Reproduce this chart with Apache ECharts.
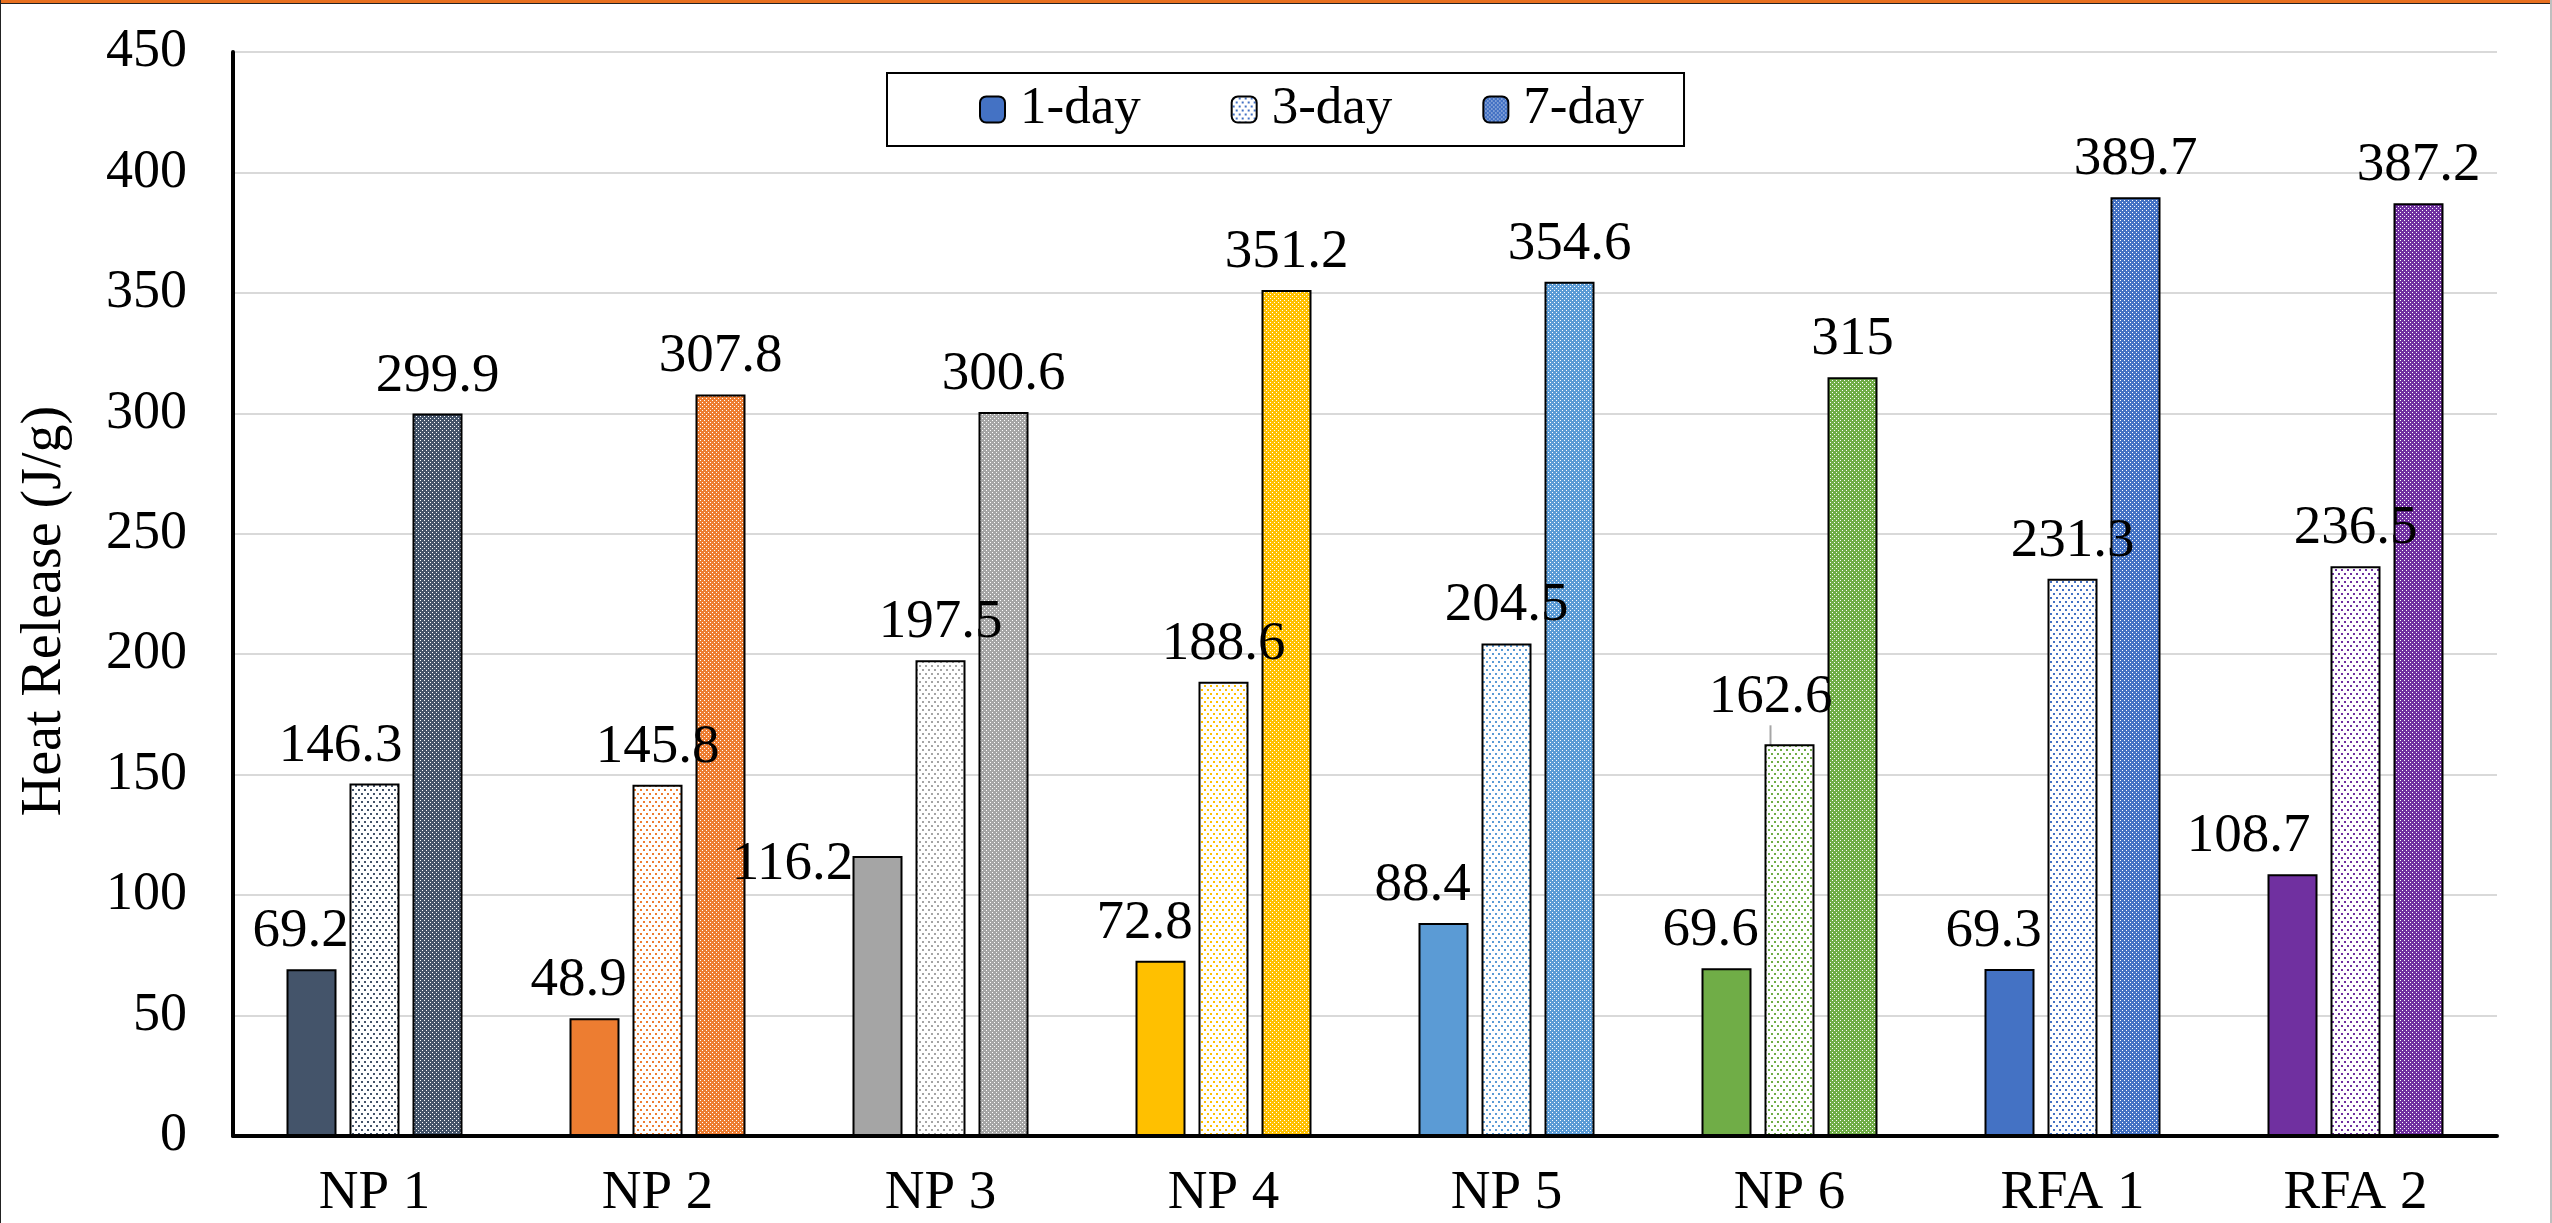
<!DOCTYPE html>
<html>
<head>
<meta charset="utf-8">
<script src="https://cdn.jsdelivr.net/npm/echarts@6/dist/echarts.min.js"></script>
<style>
  html, body { margin: 0; padding: 0; background: #fff; }
  #chart { position: absolute; left: 0; top: 0; width: 2552px; height: 1223px; }
  .edge { position: absolute; pointer-events: none; }
</style>
</head>
<body>
<div id="chart"></div>
<div class="edge" style="left:0;top:0;width:2552px;height:3px;background:#E8701F"></div>
<div class="edge" style="left:0;top:3px;width:2552px;height:1px;background:#222"></div>
<div class="edge" style="left:0;top:0;width:1px;height:1223px;background:#222"></div>
<div class="edge" style="left:2550px;top:0;width:2px;height:1223px;background:#BFBFBF"></div>
<script>
const categories = ['NP 1', 'NP 2', 'NP 3', 'NP 4', 'NP 5', 'NP 6', 'RFA 1', 'RFA 2']
const seriesNames = ['1-day', '3-day', '7-day']
const day1 = [69.2, 48.9, 116.2, 72.8, 88.4, 69.6, 69.3, 108.7]
const day3 = [146.3, 145.8, 197.5, 188.6, 204.5, 162.6, 231.3, 236.5]
const day7 = [299.9, 307.8, 300.6, 351.2, 354.6, 315, 389.7, 387.2]
const yMin = 0
const yMax = 450
const yStep = 50

// one colour per mix, Excel office palette
const mixColors = ['#44546A', '#ED7D31', '#A5A5A5', '#FFC000', '#5B9BD5', '#70AD47', '#4472C4', '#7030A0']

// data labels that were dragged by hand in the original (series:index -> [dx, dy])
const labelNudge = {
  '0:0': [-11, 0],
  '0:1': [-16, 0],
  '0:2': [-85, 46],
  '0:3': [-16, 0],
  '0:4': [-21, 0],
  '0:5': [-16, 0],
  '0:6': [-16, 0],
  '0:7': [-44, 0],
  '1:0': [-34, 0],
  '1:5': [-19, -9],
}

const font = 'Liberation Serif, Times New Roman, serif'

function dotTile(color) {
  const c = document.createElement('canvas')
  c.width = 6; c.height = 8
  const ctx = c.getContext('2d')
  ctx.fillStyle = '#fff'
  ctx.fillRect(0, 0, 6, 8)
  ctx.fillStyle = color
  ctx.fillRect(1, 1, 2, 2)
  ctx.fillRect(4, 5, 2, 2)
  return c
}

function checkTile(color) {
  const c = document.createElement('canvas')
  c.width = 4; c.height = 4
  const ctx = c.getContext('2d')
  ctx.fillStyle = color
  ctx.fillRect(0, 0, 4, 4)
  ctx.fillStyle = '#fff'
  ctx.fillRect(0, 0, 1, 1)
  ctx.fillRect(2, 2, 1, 1)
  return c
}

function fillFor(kind, color) {
  if (kind === 0) return color
  const tile = kind === 1 ? dotTile(color) : checkTile(color)
  return { image: tile, repeat: 'repeat' }
}

const chart = echarts.init(document.getElementById('chart'), null, { renderer: 'canvas' })

const series = [day1, day3, day7].map((values, s) => ({
  name: seriesNames[s],
  type: 'bar',
  barWidth: 50,
  barGap: '26%',
  itemStyle: {
    color: fillFor(s, '#4472C4'),
    borderColor: '#000',
    borderWidth: 2,
  },
  label: {
    show: true,
    position: 'top',
    distance: 10,
    color: '#000',
    fontFamily: font,
    fontSize: 55,
  },
  labelLayout: (p) => {
    const n = labelNudge[p.seriesIndex + ':' + p.dataIndex]
    return n ? { dx: n[0], dy: n[1] } : {}
  },
  data: values.map((v, i) => {
    const item = {
      value: v,
      itemStyle: { color: fillFor(s, mixColors[i]) },
    }
    if (s === 1 && i === 5) {
      item.labelLine = { show: true, lineStyle: { color: '#A6A6A6', width: 2 } }
    }
    return item
  }),
}))

const option = {
  animation: false,
  backgroundColor: '#fff',
  textStyle: { fontFamily: font, color: '#000' },
  grid: { left: 233, right: 55, top: 52, bottom: 87 },
  legend: {
    data: seriesNames,
    left: 887,
    top: 73,
    padding: [10, 40, 10, 92],
    itemGap: 90,
    itemWidth: 25,
    itemHeight: 26,
    borderColor: '#000',
    borderWidth: 2,
    textStyle: { fontFamily: font, fontSize: 53, color: '#000', padding: [0, 0, 0, 10] },
  },
  xAxis: {
    type: 'category',
    data: categories,
    axisLine: { lineStyle: { color: '#000', width: 4 } },
    axisTick: { show: false },
    axisLabel: { color: '#000', fontFamily: font, fontSize: 55, margin: 30 },
  },
  yAxis: {
    type: 'value',
    min: yMin,
    max: yMax,
    interval: yStep,
    name: 'Heat Release (J/g)',
    nameLocation: 'middle',
    nameGap: 160,
    nameTextStyle: { fontFamily: font, fontSize: 56, color: '#000', padding: [0, 34, 0, 0] },
    axisLine: { show: true, lineStyle: { color: '#000', width: 4 } },
    axisTick: { show: false },
    axisLabel: { color: '#000', fontFamily: font, fontSize: 54, margin: 46 },
    splitLine: { lineStyle: { color: '#D9D9D9', width: 2 } },
  },
  series,
}

chart.setOption(option)
</script>
</body>
</html>
